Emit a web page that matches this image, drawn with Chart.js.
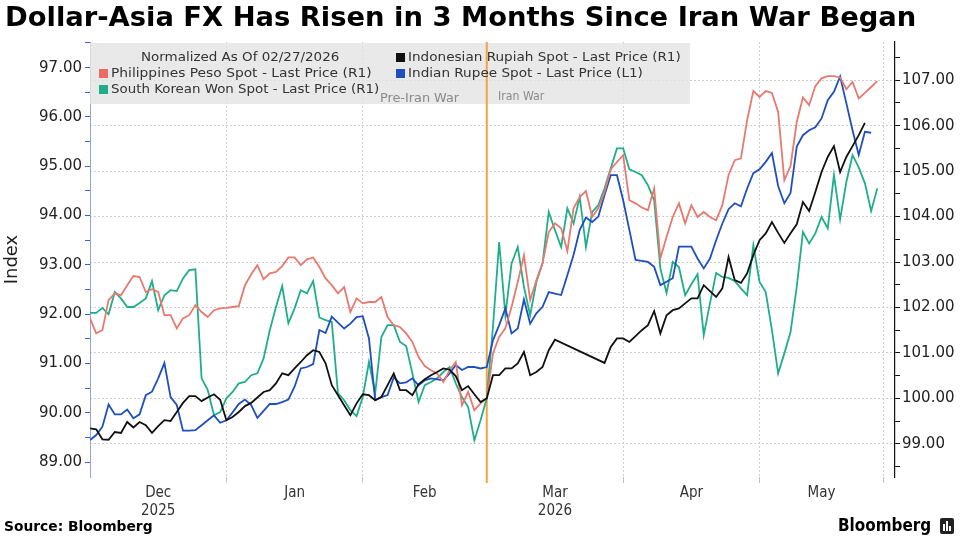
<!DOCTYPE html>
<html>
<head>
<meta charset="utf-8">
<script src="https://cdn.jsdelivr.net/npm/chart.js@4.4.1/dist/chart.umd.min.js"></script>
<style>
  body { margin: 0; background: #fff; }
  #wrap { position: relative; width: 960px; height: 540px; overflow: hidden; background: #fff; }
  #chart { position: absolute; left: 0; top: 0; }
  .txt { position: absolute; white-space: nowrap; transform-origin: 0 50%; }
  #title { left: 5px; top: 2px; font: bold 26px 'DejaVu Sans Condensed', 'DejaVu Sans', sans-serif; color: #000; }
  .leg { font: 13px 'DejaVu Sans Condensed', 'DejaVu Sans', sans-serif; color: #333; line-height: 16px; }
  .war { font: 13px 'DejaVu Sans Condensed', 'DejaVu Sans', sans-serif; color: #8a8a8a; line-height: 16px; }
  .sq { position: absolute; width: 9px; height: 9px; }
  #source { left: 4px; top: 518px; font: bold 14px 'DejaVu Sans Condensed', 'DejaVu Sans', sans-serif; color: #000; }
  #brand { left: 838px; top: 514px; font: bold 18px 'DejaVu Sans Condensed', 'DejaVu Sans', sans-serif; color: #000; }
  #logo { position: absolute; left: 940px; top: 518px; width: 14px; height: 16px; background: #222; border-radius: 2px; }
  #logo span { position: absolute; bottom: 3px; width: 2px; background: #fff; }
</style>
</head>
<body>
<div id="wrap">
  <canvas id="chart" width="960" height="540"></canvas>
  <div id="title" class="txt" data-w="911">Dollar-Asia FX Has Risen in 3 Months Since Iran War Began</div>

  <div class="txt leg" style="left:141px; top:49px" data-w="198">Normalized As Of 02/27/2026</div>
  <div class="sq" style="left:396px; top:53px; background:#111"></div>
  <div class="txt leg" style="left:408px; top:49px" data-w="273">Indonesian Rupiah Spot - Last Price (R1)</div>
  <div class="sq" style="left:99px; top:69px; background:#ec6b62"></div>
  <div class="txt leg" style="left:111px; top:65px" data-w="261">Philippines Peso Spot - Last Price (R1)</div>
  <div class="sq" style="left:396px; top:69px; background:#1f4ebf"></div>
  <div class="txt leg" style="left:408px; top:65px" data-w="235">Indian Rupee Spot - Last Price (L1)</div>
  <div class="sq" style="left:99px; top:85px; background:#1fae8a"></div>
  <div class="txt leg" style="left:111px; top:81px" data-w="268">South Korean Won Spot - Last Price (R1)</div>
  <div class="txt war" style="left:380px; top:90px" data-w="79">Pre-Iran War</div>
  <div class="txt war" style="left:498px; top:88px" data-w="46">Iran War</div>

  <div id="source" class="txt" data-w="148">Source: Bloomberg</div>
  <div id="brand" class="txt" data-w="93">Bloomberg</div>
  <div id="logo"><span style="left:3px;height:7px"></span><span style="left:6px;height:10px"></span><span style="left:9px;height:5px"></span></div>
</div>
<script>
// trading-day index: 0 = Mon 1 Dec 2025, one step per weekday
const seriesNames = [
    'Indonesian Rupiah Spot - Last Price (R1)',
    'Philippines Peso Spot - Last Price (R1)',
    'Indian Rupee Spot - Last Price (L1)',
    'South Korean Won Spot - Last Price (R1)'
];

// Philippines peso, normalized (right axis)
const phpValues = [
    101.76, 101.43, 101.50, 102.16, 102.31, 102.27, 102.49, 102.69, 102.67, 102.34,
    102.40, 102.34, 101.83, 101.83, 101.54, 101.76, 101.83, 102.05, 101.90, 101.79,
    101.94, 101.98, 101.99, 102.01, 102.03, 102.49, 102.73, 102.93, 102.62, 102.75,
    102.78, 102.91, 103.10, 103.10, 102.93, 103.06, 103.10, 102.89, 102.64, 102.49,
    102.31, 102.45, 101.90, 102.20, 102.09, 102.12, 102.12, 102.23, 101.79, 101.61,
    101.57, 101.43, 101.24, 100.91, 100.71, 100.62, 100.55, 100.36, 100.62, 100.80,
    99.85, 100.14, 99.74, 99.89, 100.00, 100.99, 101.35, 101.54, 102.01, 102.56,
    103.15, 102.16, 102.60, 102.97, 103.66, 103.85, 103.74, 103.24, 104.18, 104.43,
    104.56, 103.99, 104.18, 104.54, 105.04, 105.20, 105.35, 104.36, 104.29, 104.20,
    104.14, 104.62, 103.08, 103.55, 103.99, 104.29, 103.85, 104.25, 103.99, 104.10,
    103.99, 103.92, 104.25, 104.91, 105.24, 105.28, 106.12, 106.76, 106.63, 106.76,
    106.72, 106.30, 104.80, 105.11, 106.08, 106.62, 106.45, 106.87, 107.04, 107.09,
    107.09, 107.06, 106.80, 106.96, 106.60, 106.72, 106.85, 106.98
];

// South Korean won, normalized (right axis)
const krwValues = [
    101.88, 101.88, 101.99, 101.85, 102.34, 102.20, 102.01, 102.01, 102.10, 102.20,
    102.58, 101.94, 102.27, 102.38, 102.36, 102.64, 102.82, 102.84, 100.44, 100.18,
    99.63, 99.70, 100.00, 100.14, 100.33, 100.36, 100.51, 100.55, 100.88, 101.50,
    102.01, 102.47, 101.65, 101.98, 102.38, 102.31, 102.58, 101.78, 101.72, 101.68,
    100.11, 99.96, 99.74, 99.61, 100.03, 100.80, 100.11, 101.35, 101.61, 101.61,
    101.24, 101.15, 100.55, 99.92, 100.29, 100.36, 100.44, 100.58, 100.69, 100.33,
    100.03, 99.81, 99.08, 99.52, 100.00, 101.57, 103.44, 101.83, 102.97, 103.33,
    102.45, 101.83, 102.56, 102.97, 104.10, 103.70, 103.33, 104.18, 103.85, 104.43,
    103.33, 104.10, 104.25, 104.62, 105.06, 105.50, 105.50, 105.04, 104.98, 104.91,
    104.69, 104.36, 102.86, 102.32, 103.00, 102.89, 102.27, 102.51, 102.73, 101.39,
    102.09, 102.76, 102.67, 102.65, 102.58, 102.42, 102.27, 103.37, 102.56, 102.34,
    101.50, 100.55, 100.99, 101.46, 102.45, 103.66, 103.41, 103.63, 103.99, 103.74,
    104.91, 103.94, 104.76, 105.35, 105.08, 104.73, 104.12, 104.62
];

// Indonesian rupiah, normalized (right axis); null = no fixing
const idrValues = [
    99.34, 99.32, 99.10, 99.09, 99.26, 99.24, 99.48, 99.36, 99.48, 99.41,
    99.24, 99.39, 99.52, 99.50, 99.70, 99.90, 100.05, 100.05, 99.94, 100.02,
    100.09, 99.97, 99.52, 99.59, 99.70, 99.83, 99.90, 100.02, 100.14, 100.18,
    100.33, 100.55, 100.51, 100.66, 100.80, 100.95, 101.06, 101.02, 100.77, 100.29,
    100.07, 99.85, 99.63, 99.89, 100.09, 100.07, 99.96, 100.03, 100.29, 100.55,
    100.18, 100.18, 100.07, 100.31, 100.42, 100.51, 100.58, 100.66, 100.63, 100.49,
    100.18, 100.27, 100.09, 99.92, 100.00, 100.51, 100.51, 100.66, 100.66, 100.77,
    101.02, 100.51, 100.58, 100.69, 101.06, 101.29, null, null, null, null,
    null, null, null, 100.78, 101.13, 101.32, 101.32, 101.24, 101.37, 101.50,
    101.61, 101.92, 101.43, 101.83, 101.94, 101.98, 102.09, 102.20, 102.20, 102.49,
    102.36, 102.23, 102.42, 103.11, 102.60, 102.54, 102.75, 103.15, 103.48, 103.63,
    103.88, 103.64, 103.42, 103.63, 103.83, 104.32, 104.12, 104.54, 104.98, 105.31,
    105.55, 104.98, 105.31, 105.55, 105.79, 106.06
];

// Indian rupee spot (left axis)
const inrValues = [
    89.45, 89.55, 89.72, 90.17, 89.97, 89.97, 90.07, 89.89, 89.97, 90.36,
    90.43, 90.70, 91.01, 90.32, 90.16, 89.64, 89.64, 89.65, 89.75, 89.85,
    89.95, 89.80, 89.85, 90.01, 90.18, 90.27, 90.16, 89.90, 90.04, 90.18,
    90.18, 90.22, 90.27, 90.53, 90.90, 90.93, 90.99, 91.68, 91.62, 91.95,
    91.83, 91.71, 91.81, 91.94, 91.96, 91.51, 90.26, 90.32, 90.36, 90.72,
    90.60, 90.62, 90.70, 90.56, 90.66, 90.70, 90.68, 90.66, 90.80, 90.97,
    90.87, 90.93, 90.93, 90.90, 90.93, 91.47, 91.78, 92.12, 91.61, 91.71,
    92.30, 91.81, 92.02, 92.15, 92.45, 92.42, 92.39, 92.79, 93.20, 93.71,
    93.96, 93.87, 93.98, 94.42, 94.82, 94.82, 94.31, 93.71, 93.10, 93.08,
    93.06, 92.96, 92.59, 92.66, 92.73, 93.37, 93.37, 93.37, 93.13, 92.93,
    93.13, 93.50, 93.84, 94.13, 94.25, 94.19, 94.55, 94.86, 94.94, 95.09,
    95.27, 94.60, 94.25, 94.46, 95.40, 95.63, 95.73, 95.79, 95.97, 96.34,
    96.51, 96.82, 96.28, 95.73, 95.23, 95.70, 95.68
];

// x axis: month edges and label positions in trading-day index
const monthEdges = [22, 44, 64, 86, 108, 128];
const monthMids = [11, 33, 54, 75, 97, 118];
const monthNames = ['Dec', 'Jan', 'Feb', 'Mar', 'Apr', 'May'];
const yearNames = ['2025', '', '', '2026', '', ''];
const warDayIndex = 64; // 27 Feb 2026, normalization date

const FONT = "'DejaVu Sans Condensed', 'DejaVu Sans', sans-serif";

function toPoints(values) {
    return values.map((v, i) => ({ x: i, y: v }));
}

function isWhole(v) {
    return Math.abs(v - Math.round(v)) < 1e-6;
}

// legend backdrop and the war line, under the series
const warLine = {
    id: 'warLine',
    beforeDatasetsDraw(chart) {
        const { ctx, chartArea, scales } = chart;
        ctx.save();
        ctx.fillStyle = 'rgba(228,228,228,0.82)';
        ctx.fillRect(chartArea.left, 43, 600, 61);
        const x = scales.x.getPixelForValue(warDayIndex);
        ctx.strokeStyle = '#f4a43a';
        ctx.lineWidth = 2;
        ctx.beginPath();
        ctx.moveTo(x, chartArea.top);
        ctx.lineTo(x, chartArea.bottom + 6);
        ctx.stroke();
        ctx.restore();
    }
};

new Chart(document.getElementById('chart'), {
    type: 'line',
    data: {
        datasets: [
            { label: seriesNames[0], data: toPoints(idrValues), borderColor: '#111111', yAxisID: 'yR', spanGaps: true },
            { label: seriesNames[1], data: toPoints(phpValues), borderColor: '#e8796f', yAxisID: 'yR' },
            { label: seriesNames[2], data: toPoints(inrValues), borderColor: '#1f4ebf', yAxisID: 'yL' },
            { label: seriesNames[3], data: toPoints(krwValues), borderColor: '#1fae8a', yAxisID: 'yR' }
        ]
    },
    options: {
        responsive: false,
        animation: false,
        devicePixelRatio: 1,
        layout: { padding: { top: 42, left: 0, right: 0, bottom: 0 } },
        plugins: {
            legend: { display: false },
            tooltip: { enabled: false },
            title: { display: false }
        },
        elements: {
            point: { radius: 0 },
            line: { tension: 0, borderWidth: 1.8 }
        },
        scales: {
            x: {
                type: 'linear',
                min: 0,
                max: 129.85,
                afterBuildTicks: (s) => {
                    s.ticks = monthEdges.concat(monthMids).sort((a, b) => a - b).map(v => ({ value: v }));
                },
                afterFit: (s) => { s.height = 63; s.paddingLeft = 0; s.paddingRight = 0; },
                ticks: {
                    autoSkip: false,
                    maxRotation: 0,
                    minRotation: 0,
                    padding: 1,
                    color: '#333',
                    font: { family: FONT, size: 15, lineHeight: 1.2 },
                    callback: (v) => {
                        const k = monthMids.indexOf(v);
                        if (k < 0) return '';
                        return yearNames[k] ? [monthNames[k], yearNames[k]] : monthNames[k];
                    }
                },
                grid: {
                    color: (c) => monthEdges.includes(c.tick.value) ? '#cdcdcd' : 'rgba(0,0,0,0)',
                    tickColor: (c) => monthEdges.includes(c.tick.value) ? '#c4c4c4' : 'rgba(0,0,0,0)',
                    tickLength: 6,
                    lineWidth: 1
                },
                border: { display: false, dash: [2, 2] }
            },
            yL: {
                position: 'left',
                min: 88.70,
                max: 97.52,
                afterFit: (s) => { s.width = 90; s.paddingTop = 0; s.paddingBottom = 0; },
                ticks: {
                    stepSize: 0.5,
                    includeBounds: false,
                    padding: 3,
                    color: '#222',
                    font: { family: "'DejaVu Sans', sans-serif", size: 15 },
                    callback: (v) => isWhole(v) ? v.toFixed(2) : ''
                },
                title: {
                    display: true,
                    text: 'Index',
                    color: '#222',
                    font: { family: "'DejaVu Sans', sans-serif", size: 18 },
                    padding: { top: 2, bottom: 0 }
                },
                grid: { drawOnChartArea: false, tickColor: '#3b63c6', tickLength: 5 },
                border: { color: '#8ea8df', width: 1 }
            },
            yR: {
                position: 'right',
                min: 98.27,
                max: 107.84,
                afterFit: (s) => { s.width = 65; s.paddingTop = 0; s.paddingBottom = 0; },
                ticks: {
                    stepSize: 0.5,
                    includeBounds: false,
                    padding: 2,
                    color: '#222',
                    font: { family: "'DejaVu Sans', sans-serif", size: 15 },
                    callback: (v) => isWhole(v) ? v.toFixed(2) : ''
                },
                grid: {
                    color: (c) => isWhole(c.tick.value) ? '#cdcdcd' : 'rgba(0,0,0,0)',
                    tickColor: '#111',
                    tickLength: 5
                },
                border: { color: '#111', width: 1.2, dash: [2, 2] }
            }
        }
    },
    plugins: [warLine]
});

// squeeze text blocks to the widths seen in the reference
document.querySelectorAll('.txt[data-w]').forEach(el => {
    const w = parseFloat(el.dataset.w);
    el.style.transform = 'scaleX(' + (w / el.offsetWidth) + ')';
});
</script>
</body>
</html>
